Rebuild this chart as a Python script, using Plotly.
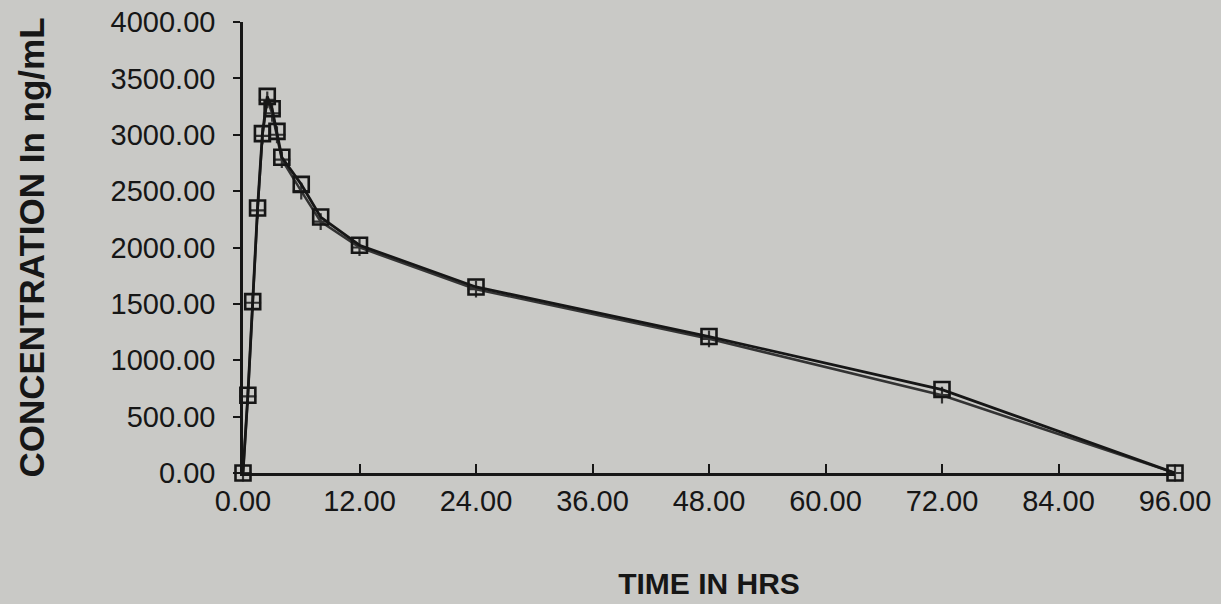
import plotly.graph_objects as go

# Data
time_hrs = [0, 0.5, 1, 1.5, 2, 2.5, 3, 3.5, 4, 6, 8, 12, 24, 48, 72, 96]
series_a = [0, 690, 1520, 2350, 3010, 3340, 3230, 3030, 2800, 2560, 2270, 2020, 1650, 1210, 740, 0]
series_b = [0, 680, 1510, 2330, 2990, 3310, 3190, 3000, 2780, 2500, 2230, 2000, 1630, 1190, 690, 0]

x_ticks = [0, 12, 24, 36, 48, 60, 72, 84, 96]
x_tick_labels = ["0.00", "12.00", "24.00", "36.00", "48.00", "60.00", "72.00", "84.00", "96.00"]
y_ticks = [0, 500, 1000, 1500, 2000, 2500, 3000, 3500, 4000]
y_tick_labels = ["0.00", "500.00", "1000.00", "1500.00", "2000.00", "2500.00", "3000.00", "3500.00", "4000.00"]

bg = "#c9c9c6"
ink = "#161616"

fig = go.Figure()
fig.add_trace(go.Scatter(
    x=time_hrs, y=series_b, mode="lines+markers",
    line=dict(color="#333333", width=2.5),
    marker=dict(symbol="cross-thin-open", size=12, line=dict(color=ink, width=2.2)),
    showlegend=False, cliponaxis=False,
))
fig.add_trace(go.Scatter(
    x=time_hrs, y=series_a, mode="lines+markers",
    line=dict(color=ink, width=2.8),
    marker=dict(symbol="square-open", size=15, line=dict(color=ink, width=2.6)),
    showlegend=False, cliponaxis=False,
))

font_family = "Liberation Sans, Arial, sans-serif"

fig.update_layout(
    width=1221, height=604,
    paper_bgcolor=bg, plot_bgcolor=bg,
    margin=dict(l=243, r=46, t=22, b=131),
    font=dict(family=font_family, color=ink),
    xaxis=dict(
        range=[0, 96], tickmode="array", tickvals=x_ticks, ticktext=x_tick_labels,
        ticks="inside", ticklen=9, tickwidth=2, tickcolor=ink,
        showline=True, linecolor=ink, linewidth=2.5,
        showgrid=False, zeroline=False, automargin=False,
        tickfont=dict(size=29, family=font_family, color=ink),
        title=dict(text="<b>TIME IN HRS</b>", font=dict(size=30, family=font_family, color=ink), standoff=58),
    ),
    yaxis=dict(
        range=[0, 4000], tickmode="array", tickvals=y_ticks, ticktext=y_tick_labels,
        ticks="outside", ticklen=7, tickwidth=2, tickcolor=ink,
        ticklabelstandoff=12,
        showline=True, linecolor=ink, linewidth=2.5,
        showgrid=False, zeroline=False, automargin=False,
        tickfont=dict(size=29, family=font_family, color=ink),
        title=dict(text="<b>CONCENTRATION In ng/mL</b>", font=dict(size=35, family=font_family, color=ink), standoff=56),
    ),
)

fig.write_html(
    "out.html",
    config={"displayModeBar": False},
    post_script="document.body.style.margin='0';document.body.style.overflow='hidden';",
)
